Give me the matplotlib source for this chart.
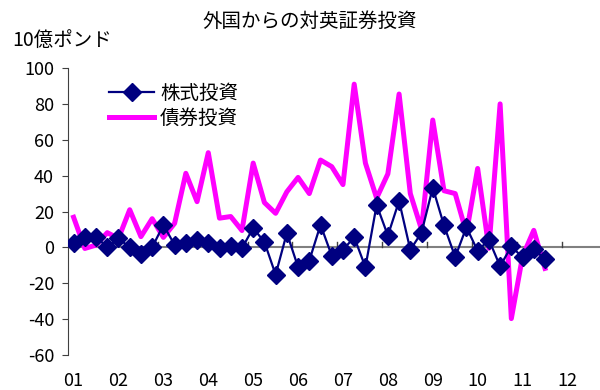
import matplotlib
matplotlib.use("Agg")
import matplotlib.pyplot as plt

plt.rcParams['font.family'] = ['Noto Sans CJK JP', 'DejaVu Sans']

# 四半期データ 2001Q1 - 2011Q3 (10億ポンド)
years = ['01', '02', '03', '04', '05', '06', '07', '08', '09', '10', '11', '12']
equity = [2.2, 6, 6, 0, 5, 0, -3.9, 0,
          12.5, 1.4, 2.7, 4.2, 2.7, -0.5, 0.8, -0.5,
          10.8, 3.0, -15.2, 8.0, -11, -7.4, 12.6, -4.6,
          -1.4, 5.7, -11, 23.7, 6.6, 25.9, -1.4, 8.3,
          33.3, 12.3, -5.4, 11.3, -2, 4.3, -10.5, 0.6,
          -5.6, -0.9, -6.6]
bonds = [16.8, -0.6, 1.3, 8.2, 5, 21, 6, 16,
         5.6, 13.4, 41.3, 25.5, 52.8, 16.3, 17.2, 9.4,
         47, 25, 19, 31, 39, 30, 48.7, 45,
         35, 91, 47, 27.5, 41, 85.5, 30, 10,
         71, 31.6, 30, 8, 44, -0.5, 80, -39.7,
         -5, 9.5, -11.7]
yticks = [-60, -40, -20, 0, 20, 40, 60, 80, 100]

fig = plt.figure(figsize=(6, 3.9), dpi=100)
ax = fig.add_axes([0.1133, 0.0897, 0.8867, 0.7359])

q = list(range(len(equity)))
ax.plot(q, bonds, color='#FF00FF', lw=3.6, label='債券投資', zorder=2)
ax.plot(q, equity, color='#000080', lw=1.6, marker='D', ms=9,
        label='株式投資', zorder=3)

ax.set_ylim(-60, 100)
ax.set_xlim(-0.5, 46.9)

# ゼロ線と年の区切り目盛
ax.axhline(0, color='#808080', lw=1.5, zorder=1)
for k in range(len(years)):
    ax.plot([-0.5 + 4 * k] * 2, [0, 2.8], color='#404040', lw=1, zorder=1)

ax.set_yticks(yticks)
ax.set_yticklabels([str(v) for v in yticks], fontsize=13)
ax.set_xticks([4 * k for k in range(len(years))])
ax.set_xticklabels(years, fontsize=13)
ax.tick_params(axis='x', length=0, pad=12)
ax.tick_params(axis='y', direction='out', length=4, color='#404040', pad=6)

for s in ['top', 'right', 'bottom']:
    ax.spines[s].set_visible(False)
ax.spines['left'].set_color('#404040')

h, l = ax.get_legend_handles_labels()
ax.legend(h[::-1], l[::-1], loc='upper left', bbox_to_anchor=(0.045, 1.01),
          frameon=False, fontsize=14, handlelength=2.3, handletextpad=0.3,
          labelspacing=0.2)

fig.text(0.517, 0.945, '外国からの対英証券投資', ha='center', va='center', fontsize=14)
fig.text(0.02, 0.895, '10億ポンド', ha='left', va='center', fontsize=14)

fig.savefig('out.png', dpi=100)
